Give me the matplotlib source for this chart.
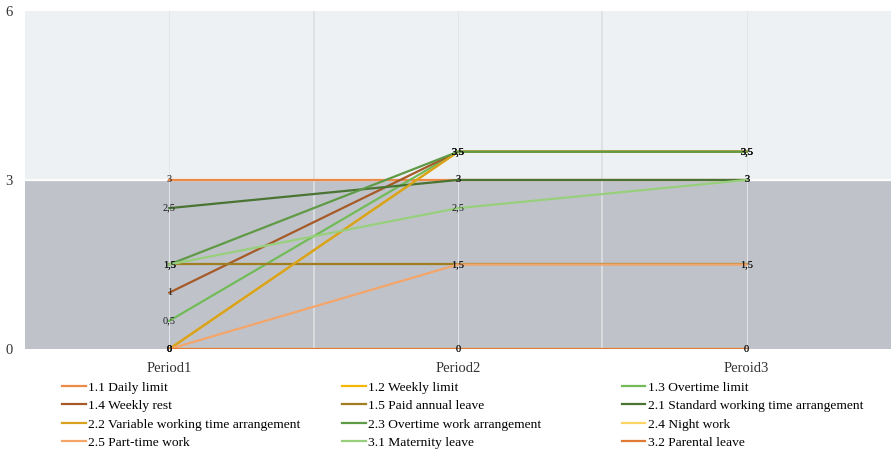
import matplotlib.pyplot as plt
from matplotlib.lines import Line2D

plt.rcParams['font.family'] = ['Liberation Serif', 'DejaVu Serif']

periods = ["Period1", "Period2", "Peroid3"]

series_names = [
    "1.1 Daily limit", "1.2 Weekly limit", "1.3 Overtime limit",
    "1.4 Weekly rest", "1.5 Paid annual leave", "2.1 Standard working time arrangement",
    "2.2 Variable working time arrangement", "2.3 Overtime work arrangement", "2.4 Night work",
    "2.5 Part-time work", "3.1 Maternity leave", "3.2 Parental leave",
]
series_values = [
    [3, 3, 3],
    [0, 3.5, 3.5],
    [0.5, 3.5, 3.5],
    [1, 3.5, 3.5],
    [1.5, 1.5, 1.5],
    [2.5, 3, 3],
    [0, 3.5, 3.5],
    [1.5, 3.5, 3.5],
    [0, 0, 0],
    [0, 1.5, 1.5],
    [1.5, 2.5, 3],
    [0, 0, 0],
]
series_colors = [
    "#ee8a48", "#f5b800", "#72bb58",
    "#a65a28", "#a07f22", "#4a7433",
    "#d9a21e", "#5f9a46", "#fdd465",
    "#f4a56a", "#98cf7c", "#e07b35",
]


def fmt(v):
    return f"{v:g}".replace(".", ",")


fig = plt.figure(figsize=(8.91, 4.49), dpi=100)
ax = fig.add_axes([0.028, 0.2227, 0.972, 0.753])

# two shaded bands behind the lines
ax.axhspan(0, 3, color="#bfc3c9", zorder=0)
ax.axhspan(3, 6, color="#eef1f3", zorder=0)
ax.axhline(3, color="white", lw=1.2, zorder=0.5)

for x in [0.5, 1.5]:
    ax.axvline(x, color="#dde0e3", lw=1.2, zorder=0.6)
for x in [0, 1, 2]:
    ax.axvline(x, color="#e3e6e9", lw=0.7, zorder=0.6)

xs = list(range(len(periods)))
for name, vals, col in zip(series_names, series_values, series_colors):
    ax.plot(xs, vals, color=col, lw=1.6, label=name, zorder=2)
    for x, v in zip(xs, vals):
        ax.text(x, v, fmt(v), ha="center", va="center", fontsize=7.5,
                color="#1a1a1a", zorder=3)

ax.set_xlim(-0.5, 2.5)
ax.set_ylim(0, 6)
ax.set_yticks([0, 3, 6])
ax.set_xticks(xs)
ax.set_xticklabels(periods)
ax.tick_params(length=0, labelsize=10.5, colors="#333333")
ax.tick_params(axis="y", pad=9)
ax.tick_params(axis="x", pad=9)
for s in ax.spines.values():
    s.set_visible(False)

# legend laid out row by row in three columns
col_x = [0.0696, 0.384, 0.698]
for c in range(3):
    idx = [c + 3 * r for r in range(4)]
    handles = [Line2D([0], [0], color=series_colors[i], lw=1.6) for i in idx]
    labels = [series_names[i] for i in idx]
    fig.legend(handles, labels, loc="upper left", bbox_to_anchor=(col_x[c], 0.151),
               frameon=False, fontsize=9.7, handlelength=1.75, handletextpad=0.2,
               labelspacing=0.45, borderpad=0, borderaxespad=0)

fig.savefig("out.png", dpi=100)
